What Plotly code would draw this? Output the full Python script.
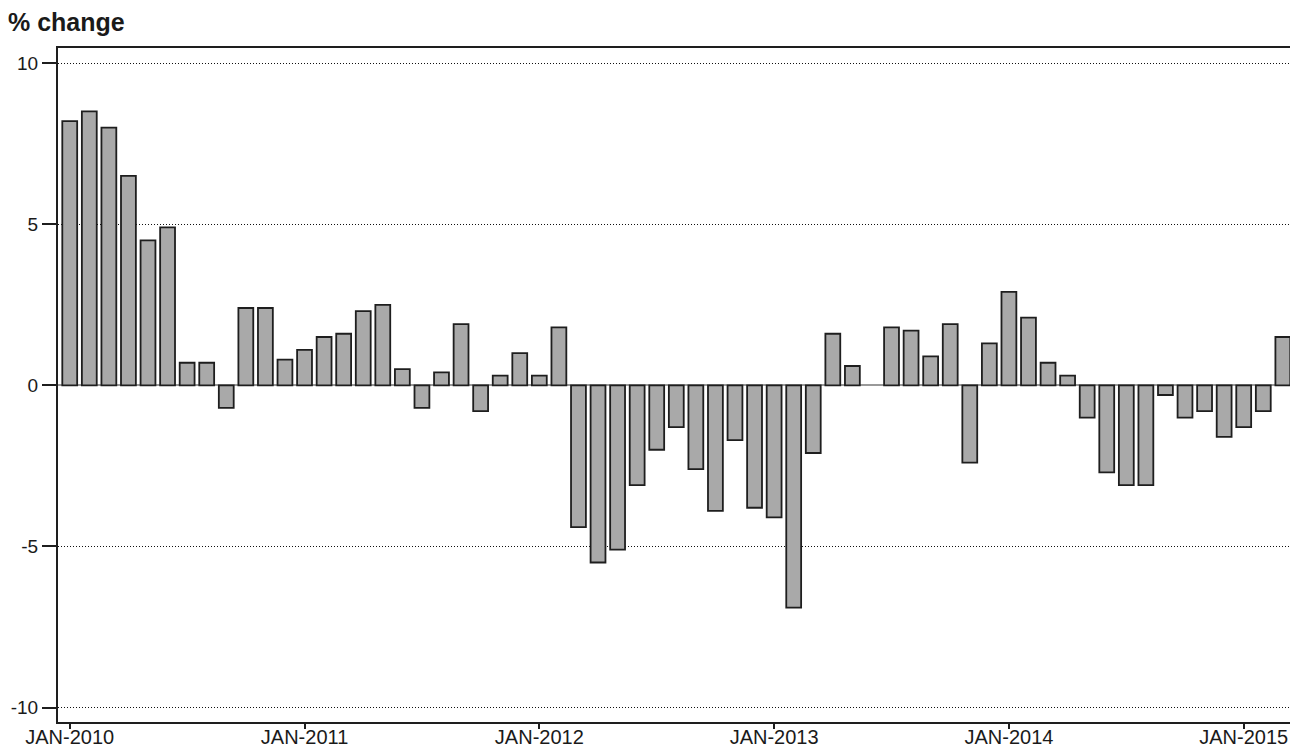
import plotly.graph_objects as go

MON = ["JAN", "FEB", "MAR", "APR", "MAY", "JUN", "JUL", "AUG", "SEP", "OCT", "NOV", "DEC"]
YEARS = [2010, 2011, 2012, 2013, 2014, 2015]
months = [f"{m}-{y}" for y in YEARS for m in MON][:63]

pct_change = [
    8.2, 8.5, 8.0, 6.5, 4.5, 4.9, 0.7, 0.7, -0.7, 2.4, 2.4, 0.8,
    1.1, 1.5, 1.6, 2.3, 2.5, 0.5, -0.7, 0.4, 1.9, -0.8, 0.3, 1.0,
    0.3, 1.8, -4.4, -5.5, -5.1, -3.1, -2.0, -1.3, -2.6, -3.9, -1.7, -3.8,
    -4.1, -6.9, -2.1, 1.6, 0.6, None, 1.8, 1.7, 0.9, 1.9, -2.4, 1.3,
    2.9, 2.1, 0.7, 0.3, -1.0, -2.7, -3.1, -3.1, -0.3, -1.0, -0.8, -1.6,
    -1.3, -0.8, 1.5,
]

tick_labels = ["JAN-2010", "JAN-2011", "JAN-2012", "JAN-2013", "JAN-2014", "JAN-2015"]
y_ticks = [-10, -5, 0, 5, 10]

FONT = "Liberation Sans, Arial, sans-serif"

# page body has an 8px margin; size the figure so it fits the 1298x751 window
W, H = 1290, 743

fig = go.Figure(
    go.Bar(
        x=months,
        y=pct_change,
        marker=dict(color="#a9a9a9", line=dict(color="#1e1e1e", width=1.8)),
        hoverinfo="x+y",
    )
)

fig.update_layout(
    width=W,
    height=H,
    margin=dict(l=50, r=4, t=40, b=29, pad=0),
    paper_bgcolor="white",
    plot_bgcolor="white",
    bargap=0.24,
    showlegend=False,
    font=dict(family=FONT, color="#1a1a1a"),
    title=dict(
        text="<b>% change</b>",
        x=0,
        xref="container",
        xanchor="left",
        y=1 - 5 / H,
        yref="container",
        yanchor="top",
        pad=dict(l=0, t=0, b=0, r=0),
        font=dict(family=FONT, size=25, color="#1a1a1a"),
    ),
)

fig.update_xaxes(
    type="category",
    range=[-0.6, 62.57],
    tickmode="array",
    tickvals=tick_labels,
    ticktext=tick_labels,
    ticks="outside",
    ticklen=5,
    tickwidth=2,
    tickcolor="#1e1e1e",
    tickfont=dict(family=FONT, size=20, color="#1a1a1a"),
    ticklabelstandoff=-9,
    showline=True,
    linecolor="#1e1e1e",
    linewidth=2,
    mirror=True,
    showgrid=False,
    automargin=False,
)

fig.update_yaxes(
    range=[-10.45, 10.47],
    tickmode="array",
    tickvals=y_ticks,
    ticktext=[str(v) for v in y_ticks],
    ticks="outside",
    ticklen=14,
    tickwidth=2,
    tickcolor="#1e1e1e",
    tickfont=dict(family=FONT, size=19, color="#1a1a1a"),
    showline=True,
    linecolor="#1e1e1e",
    linewidth=2,
    mirror=True,
    showgrid=True,
    gridcolor="#111111",
    gridwidth=1,
    griddash="1px,2px",
    zeroline=True,
    zerolinecolor="#999999",
    zerolinewidth=2,
    automargin=False,
)

fig.write_html("out.html")
